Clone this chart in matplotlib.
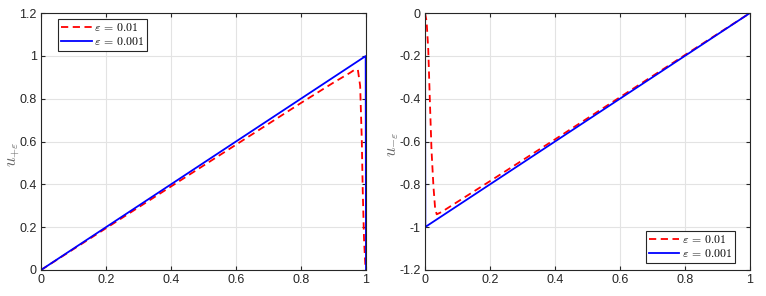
import matplotlib
matplotlib.use("Agg")
import matplotlib.pyplot as plt

plt.rcParams['font.family'] = ['Liberation Sans', 'DejaVu Sans']
plt.rcParams['mathtext.fontset'] = 'cm'

# Left panel: u_{+eps}
xl_01 = [0, 0.2, 0.4, 0.6, 0.8, 0.9, 0.95, 0.965, 0.975, 0.982, 0.987, 0.99, 0.994, 0.998, 1.0]
yl_01 = [0, 0.195, 0.39, 0.585, 0.78, 0.875, 0.92, 0.935, 0.935, 0.86, 0.61, 0.37, 0.14, 0.02, 0.0]
xl_001 = [0, 0.999, 1.0]
yl_001 = [0, 0.999, 0.0]

# Right panel: u_{-eps}
xr_01 = [0, 0.005, 0.01, 0.015, 0.02, 0.026, 0.031, 0.036, 0.05, 0.2, 0.4, 0.6, 0.8, 1.0]
yr_01 = [0, -0.04, -0.17, -0.41, -0.64, -0.81, -0.91, -0.94, -0.93, -0.785, -0.59, -0.393, -0.196, 0.0]
xr_001 = [0, 0.001, 1.0]
yr_001 = [0, -0.999, 0.0]

xticks = [0, 0.2, 0.4, 0.6, 0.8, 1]
xticklabels = ['0', '0.2', '0.4', '0.6', '0.8', '1']
yticks_l = [0, 0.2, 0.4, 0.6, 0.8, 1, 1.2]
yticklabels_l = ['0', '0.2', '0.4', '0.6', '0.8', '1', '1.2']
yticks_r = [-1.2, -1, -0.8, -0.6, -0.4, -0.2, 0]
yticklabels_r = ['-1.2', '-1', '-0.8', '-0.6', '-0.4', '-0.2', '0']
labels = [r'$\varepsilon\,=\,0.01$', r'$\varepsilon\,=\,0.001$']

fig = plt.figure(figsize=(7.66, 2.96), dpi=100)
axL = fig.add_axes([41/766, 1-270/296, 325/766, 257/296])
axR = fig.add_axes([425/766, 1-270/296, 325/766, 257/296])

axcol = '#262626'
for ax in (axL, axR):
    ax.grid(True, color='#e3e3e3', linewidth=0.8)
    ax.set_axisbelow(True)
    for s in ax.spines.values():
        s.set_color(axcol)
        s.set_linewidth(0.8)
    ax.tick_params(direction='in', length=3, width=0.8, color=axcol,
                   labelcolor=axcol, labelsize=9, top=True, right=True, pad=3)
    ax.set_xlim(0, 1)
    ax.set_xticks(xticks)
    ax.set_xticklabels(xticklabels)

leg_kw = dict(borderaxespad=0, fancybox=False, framealpha=1, edgecolor='#262626',
              fontsize=8.5, handlelength=2.6, handletextpad=0.2, borderpad=0.25,
              labelspacing=0.15)

l1, = axL.plot(xl_01, yl_01, '--', color='#ff0000', lw=1.3, dashes=(4, 2.5))
l2, = axL.plot(xl_001, yl_001, '-', color='#0000ff', lw=1.3)
axL.set_ylim(0, 1.2)
axL.set_yticks(yticks_l)
axL.set_yticklabels(yticklabels_l)
axL.set_ylabel(r'$u_{+\varepsilon}$', color='#666666', fontsize=12)
axL.yaxis.set_label_coords(-0.06, 0.45)
legL = axL.legend([l1, l2], labels, loc='upper left', bbox_to_anchor=(17/325, 1-6/257), **leg_kw)
legL.get_frame().set_linewidth(0.8)

r1, = axR.plot(xr_01, yr_01, '--', color='#ff0000', lw=1.3, dashes=(4, 2.5))
r2, = axR.plot(xr_001, yr_001, '-', color='#0000ff', lw=1.3)
axR.set_ylim(-1.2, 0)
axR.set_yticks(yticks_r)
axR.set_yticklabels(yticklabels_r)
axR.set_ylabel(r'$u_{-\varepsilon}$', color='#666666', fontsize=12)
axR.yaxis.set_label_coords(-0.075, 0.49)
legR = axR.legend([r1, r2], labels, loc='lower right', bbox_to_anchor=(1-15/325, 7/257), **leg_kw)
legR.get_frame().set_linewidth(0.8)

fig.savefig('out.png', dpi=100)
